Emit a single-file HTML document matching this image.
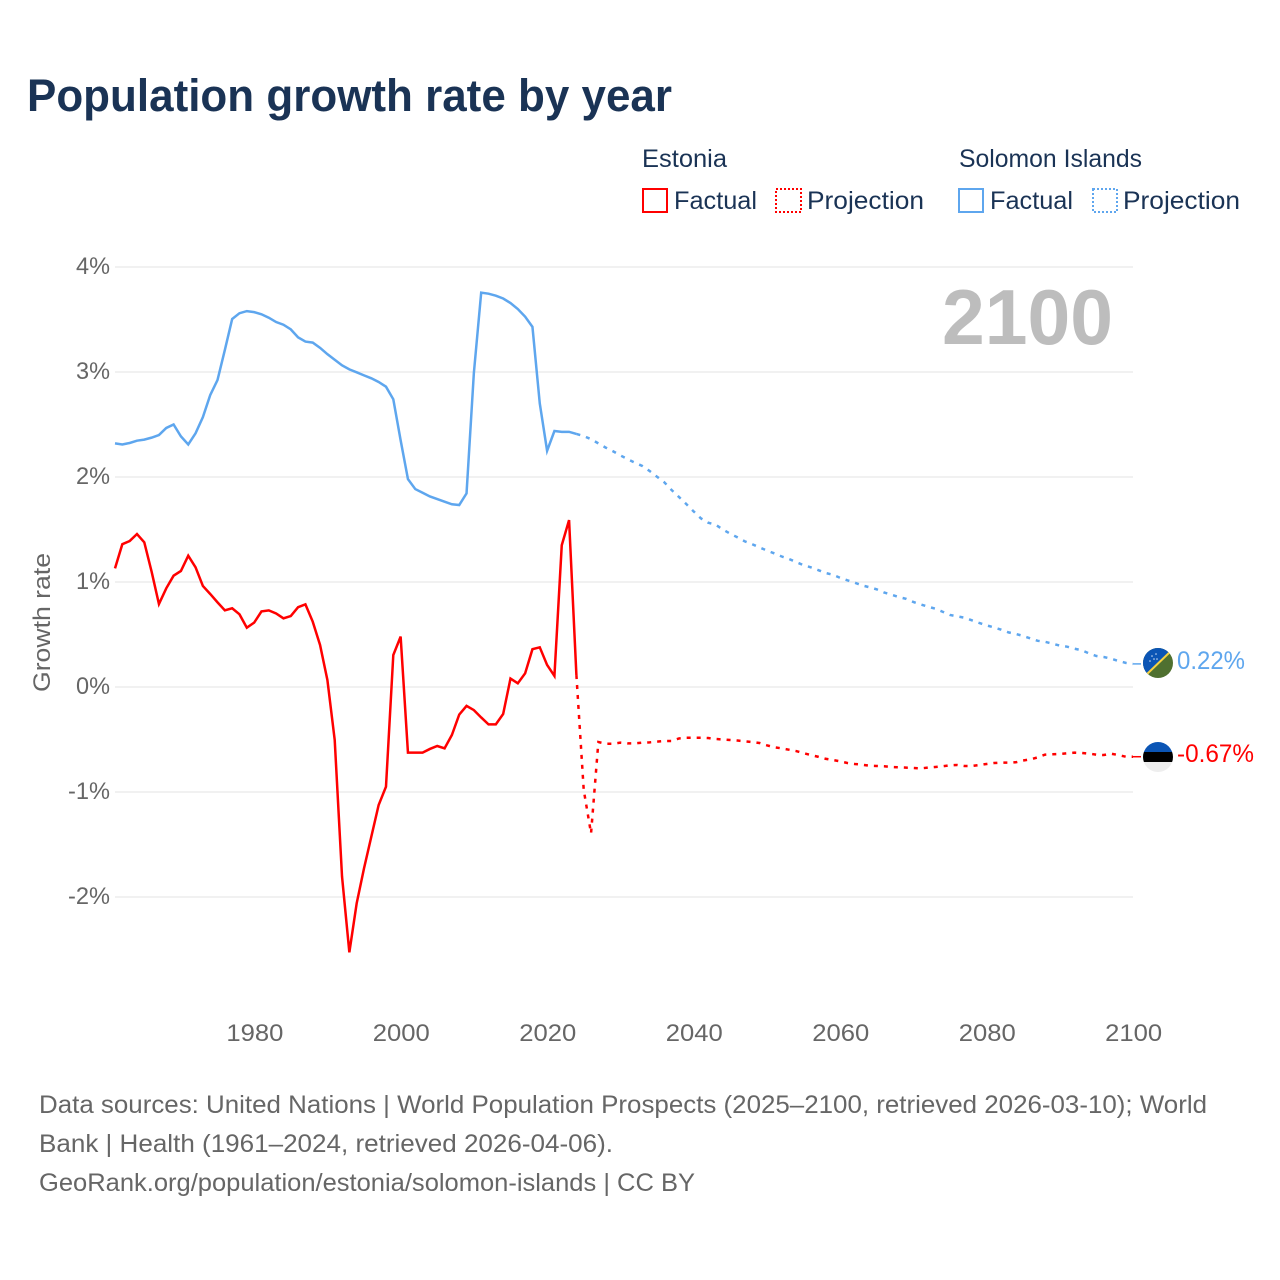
<!DOCTYPE html>
<html lang="en">
<head>
<meta charset="utf-8">
<title>Population growth rate by year</title>
<style>
html,body{margin:0;padding:0;background:#fff;}
svg{display:block;font-family:"Liberation Sans",Arial,sans-serif;}
</style>
</head>
<body>
<svg id="chart" xmlns="http://www.w3.org/2000/svg" width="1280" height="1280" viewBox="0 0 1280 1280">
  <rect x="0" y="0" width="1280" height="1280" fill="#ffffff"/>
  <text x="27" y="111" font-size="45" font-weight="700" fill="#1a3355" textLength="645" lengthAdjust="spacingAndGlyphs">Population growth rate by year</text>

  <g font-size="25" fill="#1a3355">
    <text x="642" y="167" textLength="85" lengthAdjust="spacingAndGlyphs">Estonia</text>
    <text x="959" y="167" textLength="183" lengthAdjust="spacingAndGlyphs">Solomon Islands</text>
    <rect x="643" y="189" width="24" height="23" fill="none" stroke="#ff0000" stroke-width="2"/>
    <text x="674" y="209" textLength="83" lengthAdjust="spacingAndGlyphs">Factual</text>
    <rect x="776" y="189" width="25" height="23" fill="none" stroke="#ff0000" stroke-width="2" stroke-dasharray="2 2"/>
    <text x="807" y="209" textLength="117" lengthAdjust="spacingAndGlyphs">Projection</text>
    <rect x="959" y="189" width="24" height="23" fill="none" stroke="#5ea6ee" stroke-width="2"/>
    <text x="990" y="209" textLength="83" lengthAdjust="spacingAndGlyphs">Factual</text>
    <rect x="1093" y="189" width="24" height="23" fill="none" stroke="#5ea6ee" stroke-width="2" stroke-dasharray="2 2"/>
    <text x="1123" y="209" textLength="117" lengthAdjust="spacingAndGlyphs">Projection</text>
  </g>

  <g id="grid"></g>
  <g id="yticks"></g>
  <g id="xticks"></g>

  <text transform="translate(50,692) rotate(-90)" font-size="24" fill="#666666" textLength="139" lengthAdjust="spacingAndGlyphs">Growth rate</text>
  <text x="942" y="344" font-size="78" font-weight="700" fill="#bdbdbd" textLength="171" lengthAdjust="spacingAndGlyphs">2100</text>

  <g id="series"></g>

  <defs>
    <clipPath id="clip-solomon"><circle cx="1158" cy="663" r="15"/></clipPath>
    <clipPath id="clip-estonia"><circle cx="1158" cy="757" r="15"/></clipPath>
  </defs>
  <g clip-path="url(#clip-solomon)">
    <rect x="1143" y="648" width="30" height="30" fill="#4f7030"/>
    <polygon points="1143,648 1173,648 1143,678" fill="#0b55b5"/>
    <line x1="1146" y1="675" x2="1171" y2="651" stroke="#f5d142" stroke-width="2"/>
    <circle cx="1152" cy="656" r="0.8" fill="#cfe0f5"/>
    <circle cx="1156" cy="654" r="0.8" fill="#cfe0f5"/>
    <circle cx="1154" cy="659" r="0.8" fill="#cfe0f5"/>
    <circle cx="1150" cy="661" r="0.8" fill="#cfe0f5"/>
    <circle cx="1157" cy="659" r="0.8" fill="#cfe0f5"/>
  </g>
  <g clip-path="url(#clip-estonia)">
    <rect x="1143" y="742" width="30" height="10" fill="#0b55b5"/>
    <rect x="1143" y="752" width="30" height="10" fill="#000000"/>
    <rect x="1143" y="762" width="30" height="10" fill="#eeeeee"/>
  </g>
  <text id="label-solomon" x="1177" y="669" font-size="25" fill="#5ea6ee" textLength="68" lengthAdjust="spacingAndGlyphs"></text>
  <text id="label-estonia" x="1177" y="762" font-size="25" fill="#ff0000" textLength="77" lengthAdjust="spacingAndGlyphs"></text>

  <g font-size="25" fill="#666666">
    <text x="39" y="1113" textLength="1168" lengthAdjust="spacingAndGlyphs">Data sources: United Nations | World Population Prospects (2025–2100, retrieved 2026-03-10); World</text>
    <text x="39" y="1152" textLength="574" lengthAdjust="spacingAndGlyphs">Bank | Health (1961–2024, retrieved 2026-04-06).</text>
    <text x="39" y="1191" textLength="656" lengthAdjust="spacingAndGlyphs">GeoRank.org/population/estonia/solomon-islands | CC BY</text>
  </g>
</svg>
<script>
const yTickValues = [4, 3, 2, 1, 0, -1, -2];
const xTickYears = [1980, 2000, 2020, 2040, 2060, 2080, 2100];
const factualStartYear = 1961;
const projectionStartYear = 2025;
const lastYear = 2100;

const estoniaFactual = [1.13,1.36,1.39,1.457,1.378,1.098,0.79,0.94,1.06,1.105,1.25,1.14,0.962,0.886,0.806,0.73,0.75,0.692,0.565,0.613,0.72,0.73,0.70,0.654,0.676,0.76,0.787,0.622,0.40,0.067,-0.505,-1.806,-2.527,-2.06,-1.727,-1.425,-1.124,-0.95,0.305,0.48,-0.625,-0.625,-0.625,-0.59,-0.562,-0.584,-0.457,-0.263,-0.18,-0.22,-0.29,-0.356,-0.356,-0.257,0.08,0.035,0.13,0.36,0.378,0.21,0.105,1.35,1.59,0.114];
const estoniaProjection = [-0.98,-1.394,-0.524,-0.54,-0.54,-0.53,-0.537,-0.537,-0.53,-0.527,-0.52,-0.514,-0.514,-0.49,-0.483,-0.483,-0.483,-0.486,-0.495,-0.50,-0.505,-0.51,-0.517,-0.524,-0.533,-0.555,-0.574,-0.584,-0.597,-0.61,-0.63,-0.648,-0.664,-0.683,-0.695,-0.708,-0.724,-0.733,-0.74,-0.75,-0.752,-0.755,-0.762,-0.765,-0.768,-0.771,-0.775,-0.768,-0.762,-0.755,-0.746,-0.743,-0.752,-0.752,-0.743,-0.733,-0.724,-0.72,-0.72,-0.717,-0.70,-0.689,-0.67,-0.644,-0.641,-0.638,-0.632,-0.625,-0.628,-0.635,-0.644,-0.648,-0.635,-0.648,-0.664,-0.664];
const solomonFactual = [2.32,2.31,2.324,2.346,2.356,2.375,2.40,2.467,2.50,2.387,2.31,2.416,2.57,2.78,2.924,3.21,3.505,3.56,3.58,3.57,3.55,3.517,3.476,3.45,3.406,3.33,3.29,3.28,3.23,3.17,3.117,3.063,3.025,2.997,2.968,2.94,2.905,2.86,2.74,2.35,1.98,1.885,1.85,1.815,1.79,1.765,1.74,1.733,1.844,2.99,3.756,3.746,3.727,3.70,3.657,3.60,3.527,3.43,2.70,2.25,2.438,2.43,2.43,2.41];
const solomonProjection = [2.39,2.36,2.32,2.28,2.245,2.206,2.17,2.136,2.105,2.057,2.003,1.95,1.876,1.81,1.743,1.673,1.606,1.565,1.546,1.50,1.46,1.425,1.387,1.36,1.33,1.30,1.273,1.244,1.22,1.19,1.16,1.14,1.114,1.086,1.07,1.04,1.016,0.994,0.968,0.95,0.93,0.90,0.88,0.857,0.84,0.81,0.787,0.765,0.746,0.717,0.686,0.673,0.66,0.635,0.61,0.587,0.568,0.546,0.52,0.505,0.486,0.463,0.44,0.43,0.413,0.394,0.384,0.365,0.35,0.32,0.295,0.286,0.27,0.248,0.23,0.22];
const endValueLabels = ["0.22%", "-0.67%"];

const NS = "http://www.w3.org/2000/svg";
const plotLeft = 115, plotRight = 1133, zeroY = 687, pxPerUnit = 105;
const RED = "#ff0000", BLUE = "#5ea6ee";
const lineWidth = "2.5";
const dashPattern = "4 6";

function xScale(year) {
  return plotLeft + (year - factualStartYear) * (plotRight - plotLeft) / (lastYear - factualStartYear);
}
function yScale(value) {
  return zeroY - value * pxPerUnit;
}
function linePath(startYear, values) {
  return values.map(function (v, i) {
    return (i ? "L" : "M") + xScale(startYear + i).toFixed(2) + " " + yScale(v).toFixed(2);
  }).join(" ");
}

const gridGroup = document.getElementById("grid");
const yTickGroup = document.getElementById("yticks");
const xTickGroup = document.getElementById("xticks");
const seriesGroup = document.getElementById("series");

yTickValues.forEach(function (v) {
  const gridLine = document.createElementNS(NS, "line");
  
  
  gridLine.setAttribute("x1", plotLeft);
  gridLine.setAttribute("x2", plotRight);
  gridLine.setAttribute("y1", yScale(v));
  gridLine.setAttribute("y2", yScale(v));
  gridLine.setAttribute("stroke", "#f1f1f1");
  gridLine.setAttribute("stroke-width", "2");
  gridGroup.appendChild(gridLine);

  const label = document.createElementNS(NS, "text");
  
  
  label.setAttribute("x", plotLeft - 5);
  label.setAttribute("y", yScale(v) + 7);
  label.setAttribute("text-anchor", "end");
  label.setAttribute("font-size", "24");
  label.setAttribute("fill", "#666666");
  label.setAttribute("textLength", v < 0 ? 42 : 34);
  label.setAttribute("lengthAdjust", "spacingAndGlyphs");
  label.textContent = v + "%";
  yTickGroup.appendChild(label);
});

xTickYears.forEach(function (year) {
  const label = document.createElementNS(NS, "text");
  
  
  label.setAttribute("x", xScale(year) + 0.7);
  label.setAttribute("y", 1041);
  label.setAttribute("text-anchor", "middle");
  label.setAttribute("font-size", "24");
  label.setAttribute("fill", "#666666");
  label.setAttribute("textLength", 57);
  label.setAttribute("lengthAdjust", "spacingAndGlyphs");
  label.textContent = year;
  xTickGroup.appendChild(label);
});

function projectionWithJoin(factual, projection) {
  return [factual[factual.length - 1]].concat(projection);
}

const solomonFactualLine = document.createElementNS(NS, "path");


solomonFactualLine.setAttribute("d", linePath(factualStartYear, solomonFactual));
solomonFactualLine.setAttribute("fill", "none");
solomonFactualLine.setAttribute("stroke", BLUE);
solomonFactualLine.setAttribute("stroke-width", lineWidth);
seriesGroup.appendChild(solomonFactualLine);

const solomonProjectionLine = document.createElementNS(NS, "path");


solomonProjectionLine.setAttribute("d", linePath(projectionStartYear - 1, projectionWithJoin(solomonFactual, solomonProjection)));
solomonProjectionLine.setAttribute("fill", "none");
solomonProjectionLine.setAttribute("stroke", BLUE);
solomonProjectionLine.setAttribute("stroke-width", lineWidth);
solomonProjectionLine.setAttribute("stroke-dasharray", dashPattern);
seriesGroup.appendChild(solomonProjectionLine);

const estoniaFactualLine = document.createElementNS(NS, "path");


estoniaFactualLine.setAttribute("d", linePath(factualStartYear, estoniaFactual));
estoniaFactualLine.setAttribute("fill", "none");
estoniaFactualLine.setAttribute("stroke", RED);
estoniaFactualLine.setAttribute("stroke-width", lineWidth);
seriesGroup.appendChild(estoniaFactualLine);

const estoniaProjectionLine = document.createElementNS(NS, "path");


estoniaProjectionLine.setAttribute("d", linePath(projectionStartYear - 1, projectionWithJoin(estoniaFactual, estoniaProjection)));
estoniaProjectionLine.setAttribute("fill", "none");
estoniaProjectionLine.setAttribute("stroke", RED);
estoniaProjectionLine.setAttribute("stroke-width", lineWidth);
estoniaProjectionLine.setAttribute("stroke-dasharray", dashPattern);
seriesGroup.appendChild(estoniaProjectionLine);

const solomonConnector = document.createElementNS(NS, "line");


solomonConnector.setAttribute("x1", plotRight);
solomonConnector.setAttribute("x2", plotRight + 8);
solomonConnector.setAttribute("y1", yScale(solomonProjection[solomonProjection.length - 1]));
solomonConnector.setAttribute("y2", yScale(solomonProjection[solomonProjection.length - 1]));
solomonConnector.setAttribute("stroke", BLUE);
solomonConnector.setAttribute("stroke-width", "1.5");
seriesGroup.appendChild(solomonConnector);

const estoniaConnector = document.createElementNS(NS, "line");


estoniaConnector.setAttribute("x1", plotRight);
estoniaConnector.setAttribute("x2", plotRight + 8);
estoniaConnector.setAttribute("y1", yScale(estoniaProjection[estoniaProjection.length - 1]));
estoniaConnector.setAttribute("y2", yScale(estoniaProjection[estoniaProjection.length - 1]));
estoniaConnector.setAttribute("stroke", RED);
estoniaConnector.setAttribute("stroke-width", "1.5");
seriesGroup.appendChild(estoniaConnector);

document.getElementById("label-solomon").textContent = endValueLabels[0];
document.getElementById("label-estonia").textContent = endValueLabels[1];
</script>
</body>
</html>
